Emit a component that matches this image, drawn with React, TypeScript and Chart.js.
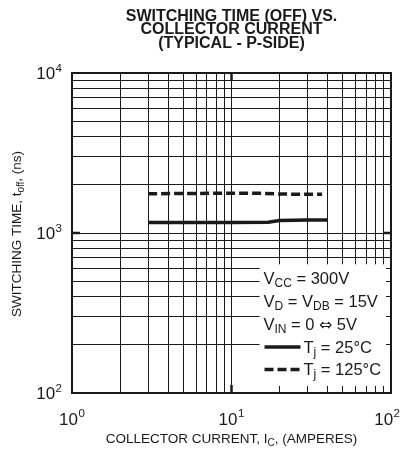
import React, { useEffect, useRef } from "react";
import { Chart, registerables } from "chart.js";

Chart.register(...registerables);

// ---- data ----
const titleLines = ["SWITCHING TIME (OFF) VS.", "COLLECTOR CURRENT", "(TYPICAL - P-SIDE)"];
const current25 = [3, 5, 10, 17, 20, 30, 40];
const time25 = [1165, 1165, 1165, 1168, 1195, 1205, 1205];
const current125 = [3, 5, 10, 15, 20, 30, 37];
const time125 = [1760, 1765, 1775, 1770, 1752, 1745, 1745];
const xGrid = [1, 2, 3, 4, 5, 6, 7, 8, 9, 10, 20, 30, 40, 50, 60, 70, 80, 90, 100];
const yGrid = [100, 200, 300, 400, 500, 600, 700, 800, 900, 1000, 2000, 3000, 4000, 5000, 6000, 7000, 8000, 9000, 10000];
const xDecades = [1, 10, 100];
const xExponents = ["0", "1", "2"];
const yDecades = [100, 1000, 10000];
const yExponents = ["2", "3", "4"];
// part kinds: "n" normal, "s" subscript, "y" symbol font
const xTitleParts: [string, string][] = [["COLLECTOR CURRENT, I", "n"], ["C", "s"], [", (AMPERES)", "n"]];
const yTitleParts: [string, string][] = [["SWITCHING TIME, t", "n"], ["off", "s"], [", (ns)", "n"]];
const conditionLines: [string, string][][] = [
  [["V", "n"], ["CC", "s"], [" = 300V", "n"]],
  [["V", "n"], ["D", "s"], [" = V", "n"], ["DB", "s"], [" = 15V", "n"]],
  [["V", "n"], ["IN", "s"], [" = 0 ", "n"], ["\u21D4", "y"], [" 5V", "n"]],
];
const seriesLabels: [string, string][][] = [
  [["T", "n"], ["j", "s"], [" = 25\u00B0C", "n"]],
  [["T", "n"], ["j", "s"], [" = 125\u00B0C", "n"]],
];

const FONT = "'Liberation Sans', Arial, Helvetica, sans-serif";
const SYMFONT = "'DejaVu Sans', sans-serif";

function setPartFont(ctx: CanvasRenderingContext2D, kind: string, size: number, subSize: number) {
  if (kind === "s") ctx.font = `${subSize}px ${FONT}`;
  else if (kind === "y") ctx.font = `${size * 0.95}px ${SYMFONT}`;
  else ctx.font = `${size}px ${FONT}`;
}

function partsWidth(ctx: CanvasRenderingContext2D, parts: [string, string][], size: number, subSize: number) {
  let w = 0;
  for (const [t, k] of parts) {
    setPartFont(ctx, k, size, subSize);
    w += ctx.measureText(t).width;
  }
  return w;
}

function drawParts(ctx: CanvasRenderingContext2D, parts: [string, string][], x: number, y: number, size: number, subSize: number, subDrop: number) {
  let cx = x;
  ctx.textAlign = "left";
  ctx.textBaseline = "alphabetic";
  for (const [t, k] of parts) {
    setPartFont(ctx, k, size, subSize);
    ctx.fillText(t, cx, k === "s" ? y + subDrop : y);
    cx += ctx.measureText(t).width;
  }
}

function drawPower(ctx: CanvasRenderingContext2D, exp: string, x: number, baseline: number, align: "center" | "right", maxRight: number) {
  ctx.font = `17px ${FONT}`;
  const wb = ctx.measureText("10").width;
  ctx.font = `11.5px ${FONT}`;
  const we = ctx.measureText(exp).width;
  const total = wb + we + 0.5;
  let left = align === "center" ? x - total / 2 : x - total;
  if (left + total > maxRight) left = maxRight - total;
  ctx.textAlign = "left";
  ctx.textBaseline = "alphabetic";
  ctx.font = `17px ${FONT}`;
  ctx.fillText("10", left, baseline);
  ctx.font = `11.5px ${FONT}`;
  ctx.fillText(exp, left + wb + 0.5, baseline - 7.3);
}

const decorPlugin = {
  id: "decor",
  beforeDatasetsDraw(chart: any) {
    const ctx = chart.ctx as CanvasRenderingContext2D;
    const x = chart.scales.x;
    const y = chart.scales.y;
    // legend box (white area hiding grid)
    const boxLeft = x.getPixelForValue(20) - 20;
    const boxTop = y.getPixelForValue(700) + 6.5;
    const boxRight = chart.chartArea.right - 5;
    const boxBottom = chart.chartArea.bottom - 7;
    ctx.save();
    ctx.fillStyle = "#ffffff";
    ctx.fillRect(boxLeft, boxTop, boxRight - boxLeft, boxBottom - boxTop);
    ctx.restore();
  },
  afterDraw(chart: any) {
    const ctx = chart.ctx as CanvasRenderingContext2D;
    const x = chart.scales.x;
    const y = chart.scales.y;
    const ca = chart.chartArea;
    ctx.save();
    ctx.fillStyle = "#1a1a1a";
    ctx.strokeStyle = "#1a1a1a";

    // frame
    ctx.lineWidth = 2;
    ctx.strokeRect(ca.left, ca.top, ca.right - ca.left, ca.bottom - ca.top);

    // decade ticks
    ctx.lineWidth = 2.5;
    const x10 = x.getPixelForValue(10);
    const y1000 = y.getPixelForValue(1000);
    ctx.beginPath();
    ctx.moveTo(x10, ca.top); ctx.lineTo(x10, ca.top + 8);
    ctx.moveTo(x10, ca.bottom); ctx.lineTo(x10, ca.bottom - 8);
    ctx.moveTo(ca.left, y1000); ctx.lineTo(ca.left + 8, y1000);
    ctx.moveTo(ca.right, y1000); ctx.lineTo(ca.right - 8, y1000);
    ctx.stroke();

    // title
    ctx.font = `bold 16px ${FONT}`;
    ctx.textAlign = "center";
    ctx.textBaseline = "alphabetic";
    const cx = (ca.left + ca.right) / 2;
    titleLines.forEach((t, i) => ctx.fillText(t, cx, 20.5 + i * 13.5));

    // tick labels
    yDecades.forEach((v, i) => drawPower(ctx, yExponents[i], 62, y.getPixelForValue(v) + 6, "right", 1000));
    xDecades.forEach((v, i) => drawPower(ctx, xExponents[i], x.getPixelForValue(v), ca.bottom + 31.5, "center", 400));

    // axis titles
    const xw = partsWidth(ctx, xTitleParts, 13.5, 10);
    drawParts(ctx, xTitleParts, cx - xw / 2, 442.5, 13.5, 10, 3);
    const yw = partsWidth(ctx, yTitleParts, 13.5, 10);
    ctx.save();
    ctx.translate(20.5, 234);
    ctx.rotate(-Math.PI / 2);
    drawParts(ctx, yTitleParts, -yw / 2, 0, 13.5, 10, 3);
    ctx.restore();

    // legend conditions
    const lx = x.getPixelForValue(20) - 16;
    const baselines = [284, 306.5, 329.5];
    conditionLines.forEach((parts, i) => drawParts(ctx, parts, lx, baselines[i], 16.5, 12, 3));

    // series legend
    const sBase = [352.5, 375];
    const dashes = [[], [9, 4]];
    sBase.forEach((b, i) => {
      ctx.save();
      ctx.lineWidth = 3.5;
      ctx.setLineDash(dashes[i]);
      ctx.beginPath();
      ctx.moveTo(lx + 1, b - 5.5);
      ctx.lineTo(lx + 37, b - 5.5);
      ctx.stroke();
      ctx.restore();
      drawParts(ctx, seriesLabels[i], lx + 40, b, 16.5, 12, 3);
    });

    ctx.restore();
  },
};

export default function App() {
  const canvasRef = useRef<HTMLCanvasElement | null>(null);

  useEffect(() => {
    document.body.style.margin = "0";
    const canvas = canvasRef.current;
    if (!canvas) return;
    const gridOpts = { color: "#1a1a1a", lineWidth: 1, drawTicks: false };
    const chart = new Chart(canvas, {
      type: "line",
      data: {
        datasets: [
          {
            label: "Tj = 25°C",
            data: current25.map((c, i) => ({ x: c, y: time25[i] })),
            borderColor: "#1a1a1a",
            borderWidth: 3.5,
            pointRadius: 0,
            tension: 0,
            fill: false,
          },
          {
            label: "Tj = 125°C",
            data: current125.map((c, i) => ({ x: c, y: time125[i] })),
            borderColor: "#1a1a1a",
            borderWidth: 3.5,
            borderDash: [9, 4],
            pointRadius: 0,
            tension: 0,
            fill: false,
          },
        ],
      },
      options: {
        responsive: false,
        animation: false,
        devicePixelRatio: 1,
        layout: { padding: { left: 72, top: 73, right: 11, bottom: 56 } },
        plugins: { legend: { display: false }, title: { display: false }, tooltip: { enabled: false } },
        scales: {
          x: {
            type: "logarithmic",
            min: 1,
            max: 100,
            grid: gridOpts,
            border: { display: false },
            ticks: { display: false },
            afterBuildTicks: (s: any) => { s.ticks = xGrid.map((v) => ({ value: v })); },
            afterFit: (s: any) => { s.height = 0; },
          },
          y: {
            type: "logarithmic",
            min: 100,
            max: 10000,
            grid: gridOpts,
            border: { display: false },
            ticks: { display: false },
            afterBuildTicks: (s: any) => { s.ticks = yGrid.map((v) => ({ value: v })); },
            afterFit: (s: any) => { s.width = 0; },
          },
        },
      } as any,
      plugins: [decorPlugin],
    });
    return () => chart.destroy();
  }, []);

  return (
    <div style={{ width: 402, height: 449 }}>
      <canvas ref={canvasRef} width={402} height={449} style={{ display: "block" }} />
    </div>
  );
}
